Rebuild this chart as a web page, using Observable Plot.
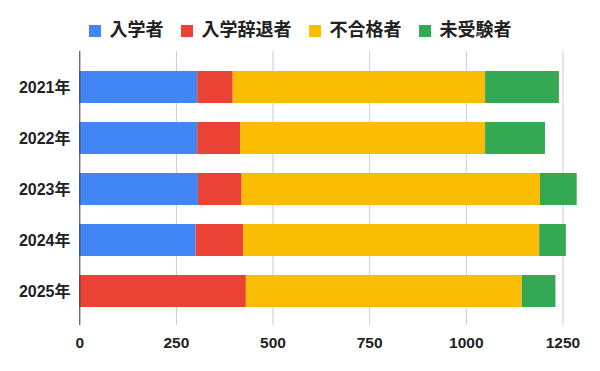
<!DOCTYPE html>
<html><head><meta charset="utf-8">
<script src="https://cdn.jsdelivr.net/npm/d3@7"></script>
<script src="https://cdn.jsdelivr.net/npm/@observablehq/plot@0.6"></script>
<style>
body{margin:0;background:#fff;font-family:"Liberation Sans","Noto Sans CJK JP",sans-serif;}
#legend{height:51px;box-sizing:border-box;padding-top:20px;display:flex;justify-content:center;align-items:flex-start;}
#legend .item{display:flex;align-items:center;margin:0 8.5px;font-size:18px;font-weight:bold;color:#222;height:21px;line-height:21px;}
#legend .sw{width:12px;height:12px;margin-right:9px;}
</style></head>
<body><div id="legend"></div><div id="chart"></div>
<script>
const years = ["2021年","2022年","2023年","2024年","2025年"];
const seriesNames = ["入学者","入学辞退者","不合格者","未受験者"];
const enrolled = [305, 305, 307, 301, 0];
const declined = [92, 111, 113, 123, 431];
const failed = [653, 634, 772, 766, 714];
const absent = [191, 155, 95, 69, 87];
const colors = ["#4285F4","#EA4335","#FBBC04","#34A853"];
const xTicks = [0, 250, 500, 750, 1000, 1250];

const valuesBySeries = [enrolled, declined, failed, absent];
const rows = [];
seriesNames.forEach((s, i) => years.forEach((y, j) => rows.push({year: y, series: s, value: valuesBySeries[i][j]})));

const legend = document.getElementById("legend");
seriesNames.forEach((s, i) => {
  const it = document.createElement("div"); it.className = "item";
  const sw = document.createElement("div"); sw.className = "sw"; sw.style.background = colors[i];
  const tx = document.createElement("span"); tx.textContent = s;
  it.appendChild(sw); it.appendChild(tx); legend.appendChild(it);
});

const chart = Plot.plot({
  width: 600, height: 320,
  marginTop: 0, marginBottom: 46, marginLeft: 79.3, marginRight: 18.3,
  insetTop: 19, insetBottom: 17.1,
  style: {fontFamily: '"Liberation Sans","Noto Sans CJK JP",sans-serif', color: "#222", background: "#fff"},
  x: {domain: [0, 1300], ticks: xTicks, label: null},
  y: {domain: years, paddingInner: 0.364, paddingOuter: 0, label: null},
  color: {domain: seriesNames, range: colors},
  marks: [
    Plot.gridX(xTicks.filter(d => d > 0), {stroke: "#cccccc", strokeOpacity: 1, strokeWidth: 1}),
    Plot.barX(rows, Plot.stackX({x: "value", y: "year", fill: "series", order: seriesNames})),
    Plot.ruleX([0], {stroke: "#333", strokeWidth: 1}),
    Plot.axisX({ticks: xTicks, tickSize: 0, tickPadding: 11, fontSize: 15.5, fontWeight: "bold", tickFormat: d => String(d), label: null}),
    Plot.axisY({tickSize: 0, tickPadding: 9.3, fontSize: 16, fontWeight: "bold", label: null})
  ]
});
document.getElementById("chart").appendChild(chart);
</script></body></html>
